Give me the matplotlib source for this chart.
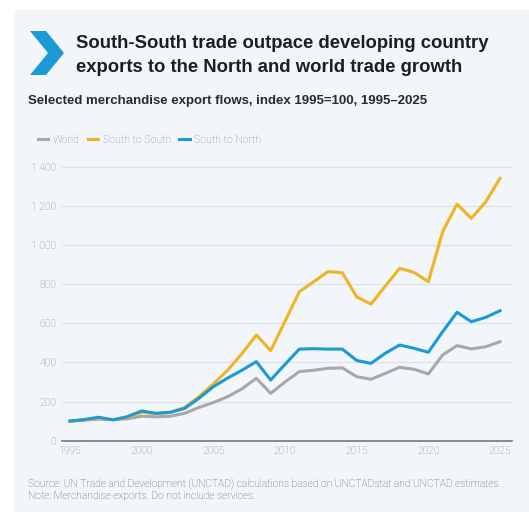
import matplotlib
matplotlib.use("Agg")
import matplotlib.pyplot as plt
from matplotlib.patches import Rectangle, Polygon

years = list(range(1995, 2026))
world = [100, 105, 110, 108, 112, 125, 122, 125, 140, 170, 195, 225, 265, 319, 242,
         300, 353, 360, 370, 372, 327, 314, 344, 375, 365, 341, 438, 486, 469, 480, 506]
south_south = [100, 108, 115, 108, 118, 145, 138, 145, 170, 225, 290, 360, 445, 540, 460,
               610, 761, 812, 864, 858, 735, 698, 790, 881, 860, 812, 1068, 1209, 1136, 1220, 1341]
south_north = [100, 108, 120, 106, 123, 152, 140, 145, 165, 217, 276, 320, 360, 404, 310,
               390, 468, 470, 468, 468, 410, 395, 447, 489, 472, 452, 557, 656, 608, 630, 664]
yticks = [0, 200, 400, 600, 800, 1000, 1200, 1400]
xticks = [1995, 2000, 2005, 2010, 2015, 2020, 2025]

W, H = 529, 520
fig = plt.figure(figsize=(W / 100, H / 100), dpi=100)
fig.patch.set_facecolor("white")

bg = "#f2f6fa"
# background panel
fig.patches.append(Rectangle((14 / W, 1 - 512 / H), (W - 14) / W, (512 - 10) / H,
                             transform=fig.transFigure, facecolor=bg, edgecolor="none", zorder=-1))
# chevron
chev = [(30, 31), (46, 31), (64, 53), (46, 75), (30, 75), (48, 53)]
fig.patches.append(Polygon([(x / W, 1 - y / H) for x, y in chev], closed=True,
                           transform=fig.transFigure, facecolor="#1a9ad6", edgecolor="none", zorder=1))

fig.text(76 / W, 1 - 44 / H, "South-South trade outpace developing country",
         fontsize=13.3, fontweight="bold", family="Liberation Sans", color="#1e1e1e", va="center")
fig.text(76 / W, 1 - 67 / H, "exports to the North and world trade growth",
         fontsize=13.3, fontweight="bold", family="Liberation Sans", color="#1e1e1e", va="center")
fig.text(28 / W, 1 - 101 / H, "Selected merchandise export flows, index 1995=100, 1995\u20132025",
         fontsize=9.5, fontweight="bold", family="Liberation Sans", color="#2a2a2a", va="center")

ax = fig.add_axes([62 / W, 1 - 440.7 / H, 450 / W, (440.7 - 156.9) / H])
ax.set_zorder(2)
ax.set_facecolor(bg)

ax.plot(years, world, color="#a8a8a8", lw=2.2, label="World", zorder=3)
ax.plot(years, south_south, color="#f0b323", lw=2.2, label="South to South", zorder=3)
ax.plot(years, south_north, color="#1a9ad6", lw=2.2, label="South to North", zorder=4)

ax.set_xlim(1995 - 8 / 14.33, 2025 + 12 / 14.33)
ax.set_ylim(0, 1450)
ax.set_yticks(yticks)
ax.set_yticklabels([f"{v:,}".replace(",", " ") for v in yticks])
ax.set_xticks(xticks)
ax.tick_params(length=0, labelsize=7.5, labelcolor="#8a8a8a", pad=4)
for lab in ax.get_xticklabels() + ax.get_yticklabels():
    lab.set_family("Roboto")
    lab.set_fontweight("light")
ax.grid(axis="y", color="#dde3ea", lw=0.9)
ax.set_axisbelow(True)
for s in ["top", "right", "left"]:
    ax.spines[s].set_visible(False)
ax.spines["bottom"].set_color("#777777")
ax.spines["bottom"].set_linewidth(1.2)

leg = ax.legend(loc="lower left", bbox_to_anchor=(-0.075, 1.01), ncol=3, frameon=False,
                handlelength=1.0, handletextpad=0.4, columnspacing=0.8,
                prop={"family": "Roboto", "weight": "light", "size": 7.6})
for t in leg.get_texts():
    t.set_color("#8a8a8a")

fig.text(28 / W, 1 - 484 / H,
         "Source: UN Trade and Development (UNCTAD) calculations based on UNCTADstat and UNCTAD estimates.",
         fontsize=7.4, family="Roboto", fontweight="light", color="#5a5a5a", va="center")
fig.text(28 / W, 1 - 496 / H, "Note: Merchandise exports. Do not include services.",
         fontsize=7.4, family="Roboto", fontweight="light", color="#5a5a5a", va="center")

fig.savefig("out.png", dpi=100, facecolor=fig.get_facecolor())
